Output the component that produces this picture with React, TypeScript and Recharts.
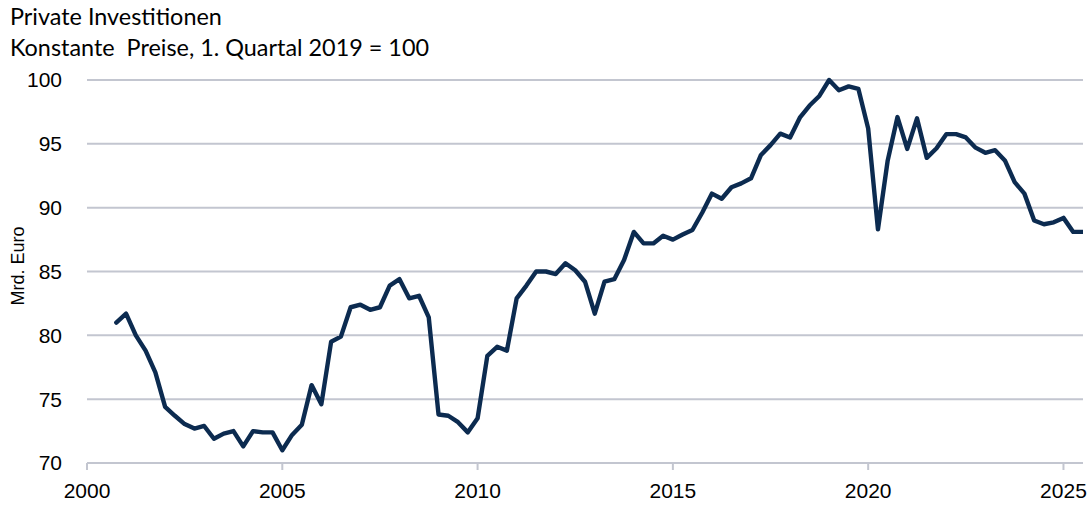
import React from "react";
import { LineChart, Line, XAxis, YAxis, CartesianGrid } from "recharts";

// Quarterly categories: 2000 Q4 .. 2025 Q3
const firstYear = 2000;
const firstQuarter = 4;

// Private Investitionen, index 1. Quartal 2019 = 100
const values: number[] = [
  81.0, // 2000 Q4
  81.7, 80.0, 78.8, 77.1, // 2001
  74.4, 73.7, 73.05, 72.7, // 2002
  72.9, 71.9, 72.3, 72.5, // 2003
  71.3, 72.5, 72.4, 72.4, // 2004
  71.0, 72.2, 73.0, 76.1, // 2005
  74.6, 79.5, 79.9, 82.2, // 2006
  82.4, 82.0, 82.2, 83.9, // 2007
  84.4, 82.9, 83.1, 81.4, // 2008
  73.8, 73.7, 73.2, 72.4, // 2009
  73.5, 78.4, 79.1, 78.8, // 2010
  82.9, 83.9, 85.0, 85.0, // 2011
  84.8, 85.65, 85.1, 84.2, // 2012
  81.7, 84.2, 84.4, 85.9, // 2013
  88.1, 87.2, 87.2, 87.8, // 2014
  87.5, 87.9, 88.25, 89.6, // 2015
  91.1, 90.7, 91.6, 91.9, // 2016
  92.3, 94.1, 94.9, 95.8, // 2017
  95.5, 97.05, 98.0, 98.75, // 2018
  100.0, 99.2, 99.5, 99.3, // 2019
  96.2, 88.3, 93.7, 97.1, // 2020
  94.6, 97.0, 93.9, 94.65, // 2021
  95.76, 95.76, 95.5, 94.7, // 2022
  94.3, 94.5, 93.7, 92.0, // 2023
  91.1, 89.0, 88.7, 88.85, // 2024
  89.2, 88.1, 88.1, // 2025
];

const xTicks = [2000, 2005, 2010, 2015, 2020, 2025];
const yTicks = [70, 75, 80, 85, 90, 95, 100];

const data = values.map((v, i) => {
  const q = firstQuarter - 1 + i;
  return { t: firstYear + q / 4, value: v };
});

const GRID = "#c3c6d0";
const LINE = "#0c2b50";

export default function App() {
  return (
    <div style={{ position: "absolute", left: 0, top: 0, width: 1089, height: 506, background: "#fff" }}>
      <div
        style={{
          position: "absolute",
          left: 10,
          top: 1,
          fontFamily: "Lato, 'Noto Sans', sans-serif",
          fontSize: 23.4,
          lineHeight: "31px",
          color: "#000",
          whiteSpace: "pre",
        }}
      >
        <div>Private Investitionen</div>
        <div>{"Konstante  Preise, 1. Quartal 2019 = 100"}</div>
      </div>
      <div
        style={{
          position: "absolute",
          left: 18,
          top: 266,
          transform: "translate(-50%, -50%) rotate(-90deg)",
          fontFamily: "'Liberation Sans', Arial, sans-serif",
          fontSize: 18,
          whiteSpace: "nowrap",
          color: "#000",
        }}
      >
        Mrd. Euro
      </div>
      <LineChart
        width={1089}
        height={506}
        data={data}
        margin={{ top: 80, right: 6, bottom: 0, left: 17 }}
        style={{ position: "absolute", left: 0, top: 0 }}
      >
        <CartesianGrid vertical={false} stroke={GRID} strokeWidth={2} horizontalValues={yTicks} />
        <XAxis
          dataKey="t"
          type="number"
          domain={[2000, 2025.5]}
          ticks={xTicks}
          allowDataOverflow
          height={43}
          axisLine={{ stroke: GRID, strokeWidth: 2 }}
          tickLine={{ stroke: GRID, strokeWidth: 2 }}
          tickSize={7}
          tickMargin={13}
          tick={{ fill: "#000", fontSize: 21, fontFamily: "'Liberation Sans', Arial, sans-serif" }}
          interval={0}
        />
        <YAxis
          type="number"
          domain={[70, 100]}
          ticks={yTicks}
          width={70}
          axisLine={false}
          tickLine={false}
          tickSize={6}
          tickMargin={19}
          tick={{ fill: "#000", fontSize: 21, fontFamily: "'Liberation Sans', Arial, sans-serif" }}
          interval={0}
        />
        <Line
          type="linear"
          dataKey="value"
          stroke={LINE}
          strokeWidth={4.4}
          dot={false}
          strokeLinejoin="round"
          strokeLinecap="round"
          isAnimationActive={false}
        />
      </LineChart>
    </div>
  );
}
